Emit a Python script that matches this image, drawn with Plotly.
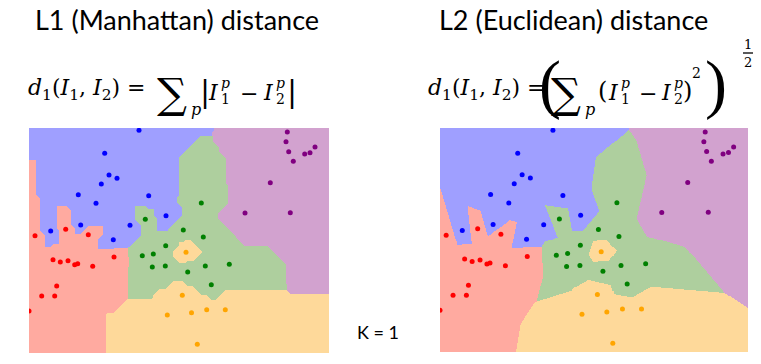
import numpy as np
import plotly.graph_objects as go

W, H = 761, 364

# ---- data (feature space 0..300 x 0..225) ----
blue_x = [110, 75.7, 80, 88, 72.3, 49.3, 67, 119.7, 137, 51.7, 21.7, 101, 84.3]
blue_y = [222.7, 199.7, 178, 174.7, 169, 158.3, 149.7, 157.3, 137.3, 128, 122, 127.7, 113.3]
red_x = [6, 36.7, 59.3, 24, 31.3, 39, 45.7, 48.7, 63.7, 85, 27.7, 12.7, 25.7, 0]
red_y = [117.3, 123.7, 118.3, 93.3, 91, 92.3, 88.3, 89.3, 86.7, 96, 67, 57, 57, 42]
green_x = [116.3, 154.3, 136.7, 124.3, 113.3, 123.3, 136.3, 158.7, 174.3, 176.3, 200.3, 182.3, 172.3]
green_y = [133.7, 123, 107.3, 99, 97.3, 86, 87, 81, 116, 87, 88.7, 68.3, 150]
orange_x = [157, 153.3, 138.3, 162.5, 168.3, 177.7, 196.3]
orange_y = [100.7, 57.7, 38, 40.3, 8.7, 43.3, 43.3]
purple_x = [258.3, 257, 259.7, 264.3, 275.7, 281, 286, 241.3, 216, 261.3]
purple_y = [221, 211.3, 201.3, 191.7, 199, 200.3, 206, 170.3, 140, 140.3]

class_names = ["blue", "red", "green", "orange", "purple"]
region_colors = ["#9f9fff", "#ffaaa0", "#aecf9e", "#fed99a", "#d2a2cf"]
point_colors = ["#0000ff", "#ff0000", "#008000", "#ffa500", "#800080"]

xs_all = [blue_x, red_x, green_x, orange_x, purple_x]
ys_all = [blue_y, red_y, green_y, orange_y, purple_y]

px_arr = np.concatenate([np.array(v, float) for v in xs_all])
py_arr = np.concatenate([np.array(v, float) for v in ys_all])
lab_arr = np.concatenate([np.full(len(v), i) for i, v in enumerate(xs_all)])

gx = np.arange(0.5, 300, 1.0)
gy = np.arange(0.5, 225, 1.0)
GX, GY = np.meshgrid(gx, gy)
dx = np.abs(GX[..., None] - px_arr[None, None, :])
dy = np.abs(GY[..., None] - py_arr[None, None, :])
z_l1 = lab_arr[np.argmin(dx + dy, axis=-1)]
z_l2 = lab_arr[np.argmin(dx ** 2 + dy ** 2, axis=-1)]

cs = []
n = len(region_colors)
for i, c in enumerate(region_colors):
    cs.append([i / n, c])
    cs.append([(i + 1) / n, c])

fig = go.Figure()
for k, z in enumerate([z_l1, z_l2]):
    xa = "x" if k == 0 else "x2"
    ya = "y" if k == 0 else "y2"
    fig.add_trace(go.Heatmap(x=gx, y=gy, z=z, colorscale=cs, zmin=-0.5, zmax=n - 0.5,
                             showscale=False, hoverinfo="skip", xaxis=xa, yaxis=ya))
    for i in range(n):
        fig.add_trace(go.Scatter(x=xs_all[i], y=ys_all[i], mode="markers",
                                 marker=dict(color=point_colors[i], size=5),
                                 name=class_names[i], xaxis=xa, yaxis=ya))

def dom_x(a, b):
    return [a / W, b / W]

def dom_y(top, bot):
    return [1 - bot / H, 1 - top / H]

ax = dict(visible=False, fixedrange=True)
fig.update_layout(
    width=W, height=H, margin=dict(l=0, r=0, t=0, b=0),
    paper_bgcolor="white", plot_bgcolor="white", showlegend=False,
    xaxis=dict(domain=dom_x(29, 329), range=[0, 300], **ax),
    yaxis=dict(domain=dom_y(128, 353), range=[0, 225], **ax),
    xaxis2=dict(domain=dom_x(440, 748), range=[0, 300], anchor="y2", **ax),
    yaxis2=dict(domain=dom_y(128, 352), range=[0, 225], anchor="x2", **ax),
)

SANS = "Lato"
SERIF = "DejaVu Serif"
TIMES = "Liberation Serif"
anns = []

def T(text, px, py, size, family=SERIF, xanchor="left", yanchor="middle"):
    anns.append(dict(text=text, x=px / W, y=1 - py / H, xref="paper", yref="paper",
                     showarrow=False, xanchor=xanchor, yanchor=yanchor,
                     font=dict(size=size, family=family, color="black")))

# titles
T("L1 (Manhattan) distance", 33, 19, 27, SANS)
T("L2 (Euclidean) distance", 437, 19, 27, SANS)
T("K = 1", 378, 332, 18, SANS, xanchor="center")

# left formula
T("<i>d</i><sub>1</sub>(<i>I</i><sub>1</sub>, <i>I</i><sub>2</sub>) =", 26, 89, 22)
T("∑", 155, 93, 42)
T("<i>p</i>", 189, 109, 16)
T("|", 198, 91, 30)
T("<i>I</i>", 206, 92, 22)
T("<i>p</i>", 219, 83, 14)
T("1", 219, 99, 14)
T("−", 238, 93, 22)
T("<i>I</i>", 261, 92, 22)
T("<i>p</i>", 274, 83, 14)
T("2", 274, 99, 14)
T("|", 285, 91, 30)

# right formula
T("<i>d</i><sub>1</sub>(<i>I</i><sub>1</sub>, <i>I</i><sub>2</sub>) =", 426, 89, 22)
T("(", 537, 84, 66, TIMES)
T("∑", 549, 93, 42)
T("<i>p</i>", 583, 109, 16)
T("(", 596, 91, 24)
T("<i>I</i>", 606, 92, 22)
T("<i>p</i>", 619, 83, 14)
T("1", 619, 99, 14)
T("−", 637, 93, 22)
T("<i>I</i>", 659, 92, 22)
T("<i>p</i>", 672, 83, 14)
T("2", 672, 99, 14)
T(")", 681, 91, 24)
T("2", 690, 73, 14)
T(")", 703, 84, 66, TIMES)
T("1", 748, 44, 13, xanchor="center")
T("2", 748, 62, 13, xanchor="center")
fig.update_layout(annotations=anns)
fig.add_shape(type="line", xref="paper", yref="paper",
              x0=743 / W, x1=753 / W, y0=1 - 53 / H, y1=1 - 53 / H,
              line=dict(color="black", width=1.3))

fig.write_html("out.html", config={"displayModeBar": False},
               post_script="document.body.style.margin='0';")
